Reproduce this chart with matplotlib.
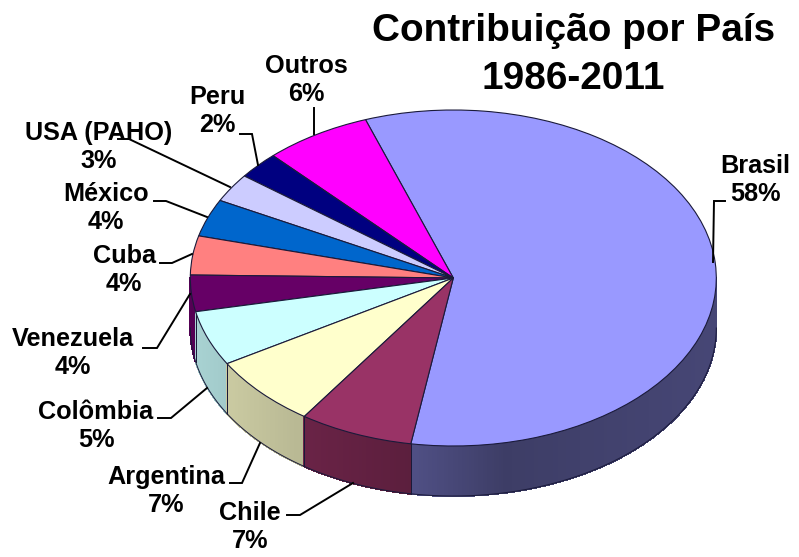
import numpy as np
import matplotlib
matplotlib.use("Agg")
import matplotlib.pyplot as plt
from matplotlib.colors import to_rgb

plt.rcParams['font.family'] = ['Liberation Sans', 'DejaVu Sans']

# ---- data ----
countries = ["Brasil", "Outros", "Peru", "USA (PAHO)", "México", "Cuba",
             "Venezuela", "Colômbia", "Argentina", "Chile"]
shares = [58.0, 6.6, 2.6, 2.75, 3.6, 3.75, 3.5, 5.3, 6.9, 7.0]
percent_labels = ["58%", "6%", "2%", "3%", "4%", "4%", "4%", "5%", "7%", "7%"]
colors = ["#9999FF", "#FF00FF", "#000080", "#CCCCFF", "#0066CC", "#FF8080",
          "#660066", "#CCFFFF", "#FFFFCC", "#993366"]
title_lines = ["Contribuição por País", "1986-2011"]

W, H = 799, 557
CX, CY, RX, RY, DEPTH = 453.3, 278, 263, 168, 50
EDGE = "#1a1a3a"

fig = plt.figure(figsize=(W / 100, H / 100), dpi=100, facecolor="white")

# Main pie axes: unit circle squashed to the ellipse by the axes box
ax = fig.add_axes([(CX - RX) / W, 1 - (CY + RY) / H, 2 * RX / W, 2 * RY / H])
wedges, _ = ax.pie(shares, colors=colors, startangle=260.7, counterclock=True,
                   radius=1, wedgeprops=dict(edgecolor=EDGE, linewidth=0.8, zorder=5))
ax.set_aspect("auto")
ax.set_xlim(-1, 1)
ax.set_ylim(-1, 1)
ax.patch.set_visible(False)
for w in wedges:
    w.set_clip_on(False)

# Rim of the pie, built from the wedge angles
depth = 2 * DEPTH / (2 * RY)


def shade(x):
    return np.interp(x, [-1, -0.57, -0.56, -0.16, -0.15, 0.2, 1.0],
                     [0.83, 0.72, 0.69, 0.60, 0.52, 0.40, 0.46])


for w, col in zip(wedges, colors):
    base = np.array(to_rgb(col))
    spans = [(w.theta1, w.theta2), (w.theta1 - 360, w.theta2 - 360)]
    for a, b in spans:
        lo, hi = max(a, 180), min(b, 360)
        if hi <= lo:
            continue
        edges = np.radians(np.linspace(lo, hi, int((hi - lo) * 2) + 2))
        for t0, t1 in zip(edges[:-1], edges[1:]):
            xs = np.cos([t0, t1, t1, t0])
            ys = np.sin([t0, t1, t1, t0]) - np.array([0, 0, depth, depth])
            c = base * shade(np.cos((t0 + t1) / 2))
            ax.fill(xs, ys, facecolor=c, edgecolor=c, lw=0.8, zorder=2,
                    clip_on=False, antialiased=False)
        arc = np.radians(np.linspace(lo, hi, 100))
        ax.plot(np.cos(arc), np.sin(arc) - depth, color=EDGE, lw=0.7, zorder=3, clip_on=False)
        for t in (lo, hi):
            if t not in (180, 360):
                r = np.radians(t)
                ax.plot([np.cos(r)] * 2, [np.sin(r), np.sin(r) - depth],
                        color=EDGE, lw=0.7, zorder=3, clip_on=False)

# Overlay in pixel coordinates for text and leader lines
ov = fig.add_axes([0, 0, 1, 1], zorder=10)
ov.set_xlim(0, W)
ov.set_ylim(H, 0)
ov.axis("off")

label_pos = [(755, 180), (306, 80), (217, 111), (99, 147), (106, 208),
             (124, 270), (73, 353), (96, 426), (166, 491), (250, 527)]
for name, pct, (x, y) in zip(countries, percent_labels, label_pos):
    ov.text(x, y, f"{name}\n{pct}", ha="center", va="center", fontsize=18.2,
            fontweight="bold", color="black", linespacing=1.17)

leaders = [
    [(713, 262), (714, 201), (725, 201)],
    [(314, 134), (314, 108)],
    [(240, 134), (252, 134), (258, 165)],
    [(118, 139), (129, 139), (230, 187)],
    [(154, 201), (166, 201), (207, 217)],
    [(160, 263), (172, 263), (192, 254)],
    [(190, 294), (157, 348), (143, 348)],
    [(207, 388), (171, 418), (158, 418)],
    [(260, 443), (242, 483), (230, 483)],
    [(353, 483), (300, 515), (287, 515)],
]
for pts in leaders:
    px, py = zip(*pts)
    ov.plot(px, py, color="black", lw=1.4, solid_joinstyle="miter")

ov.text(574, 31, title_lines[0], ha="center", va="center", fontsize=27.9,
        fontweight="bold", color="black")
ov.text(573, 79, title_lines[1], ha="center", va="center", fontsize=27.9,
        fontweight="bold", color="black")

fig.savefig("out.png", dpi=100, facecolor="white")
